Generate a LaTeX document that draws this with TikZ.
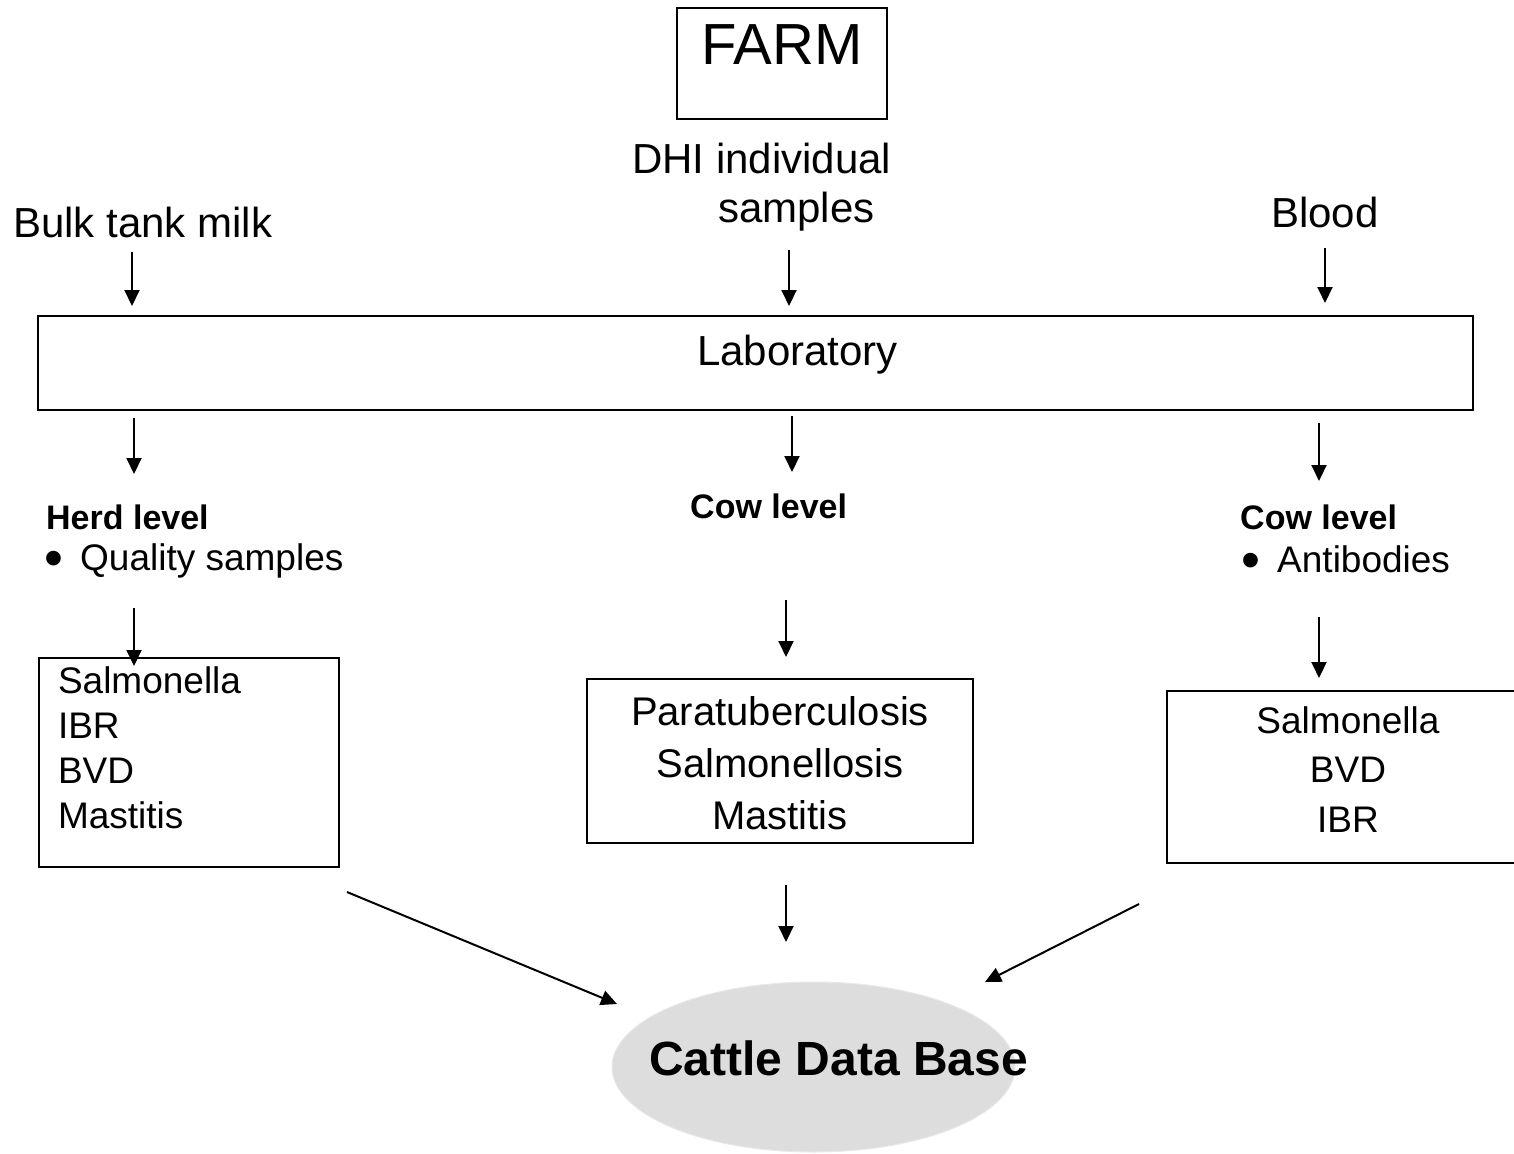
\documentclass[tikz,border=0pt]{standalone}
\usepackage{fontspec}
\setmainfont{Liberation Sans}
\usetikzlibrary{arrows.meta,shapes.geometric}
\definecolor{dbfill}{HTML}{DDDDDD}
\definecolor{dbline}{HTML}{E8E8E8}
\newcommand{\bigdot}{\raisebox{-6pt}{\fontsize{54}{54}\selectfont •}}
\begin{document}
\begin{tikzpicture}[x=1pt,y=-1pt,
  arr/.style={line width=2pt,-{Triangle[length=16pt,width=15pt]}},
  box/.style={draw,line width=2pt,rectangle,inner xsep=0pt,inner ysep=0pt},
  txt/.style={inner sep=0pt,anchor=base west},
  big/.style={font=\fontsize{42}{49}\selectfont},
  head/.style={font=\fontsize{34}{40}\selectfont\bfseries},
  item/.style={font=\fontsize{37}{45}\selectfont}]
\useasboundingbox (0,0) rectangle (1514,1153);

% top
\node[box,anchor=base,minimum width=210pt,text height=57pt,text depth=54pt,
  font=\fontsize{58}{64}\selectfont] (farm) at (782,65) {FARM};
\node[txt,big] (bulk) at (13,237) {Bulk tank milk};
\node[txt,big] (dhi) at (632,173) {\begin{tabular}[t]{@{}l@{}}DHI individual\\\hspace*{86pt}samples\end{tabular}};
\node[txt,big] (blood) at (1271,227) {Blood};

% laboratory
\node[box,anchor=base,minimum width=1435pt,text height=49pt,text depth=45pt,big]
  (lab) at (755.5,365) {\hspace*{84pt}Laboratory};

% levels
\node[txt,head] (herd) at (46,529) {Herd level};
\node[txt,item] (quality) at (44,570) {\makebox[36pt][l]{\bigdot}Quality samples};
\node[txt,head] (cowmid) at (690,518) {Cow level};
\node[txt,head] (cowright) at (1240,529) {Cow level};
\node[txt,item] (antib) at (1241,572) {\makebox[36pt][l]{\bigdot}Antibodies};

% disease boxes
\node[box,anchor=base west,inner xsep=19pt,text height=35pt,text depth=174pt,
  font=\fontsize{37}{45}\selectfont] (lbox) at (38,693)
  {\makebox[262pt][l]{\begin{tabular}[t]{@{}l@{}}Salmonella\\IBR\\BVD\\Mastitis\end{tabular}}};
\node[box,anchor=base,minimum width=386pt,text height=46pt,text depth=118pt,
  font=\fontsize{40}{52}\selectfont] (mbox) at (780,725)
  {\begin{tabular}[t]{@{}c@{}}Paratuberculosis\\Salmonellosis\\Mastitis\end{tabular}};
\node[box,anchor=base,minimum width=362pt,text height=42pt,text depth=130pt,
  font=\fontsize{37}{49.5}\selectfont] (rbox) at (1348,733)
  {\begin{tabular}[t]{@{}c@{}}Salmonella\\BVD\\IBR\end{tabular}};

% database
\node[ellipse,fill=dbfill,draw=dbline,line width=1pt,minimum width=403pt,minimum height=170pt,
  inner sep=0pt,text height=0pt,text depth=0pt,font=\fontsize{48}{56}\selectfont\bfseries]
  (db) at (813.5,1067) {\raisebox{-8pt}{\makebox[0pt]{\hspace{50pt}Cattle Data Base}}};

% arrow end points
\coordinate (a1s) at (132,252); \coordinate (a1e) at (132,306);
\coordinate (a2s) at (789,250); \coordinate (a2e) at (789,306);
\coordinate (a3s) at (1325,248); \coordinate (a3e) at (1325,303);
\coordinate (b1s) at (134,418); \coordinate (b1e) at (134,474);
\coordinate (b2s) at (792,416); \coordinate (b2e) at (792,472);
\coordinate (b3s) at (1319,423); \coordinate (b3e) at (1319,481);
\coordinate (c1s) at (134,608); \coordinate (c1e) at (134,666);
\coordinate (c2s) at (786,600); \coordinate (c2e) at (786,657);
\coordinate (c3s) at (1319,617); \coordinate (c3e) at (1319,678);
\coordinate (d1s) at (347,892); \coordinate (d1e) at (617,1004);
\coordinate (d2s) at (786,885); \coordinate (d2e) at (786,942);
\coordinate (d3s) at (1139,904); \coordinate (d3e) at (985,982);

\foreach \p in {a1,a2,a3,b1,b2,b3,c1,c2,c3,d1,d2,d3}
  \draw[arr] (\p s) -- (\p e);
\end{tikzpicture}
\end{document}
